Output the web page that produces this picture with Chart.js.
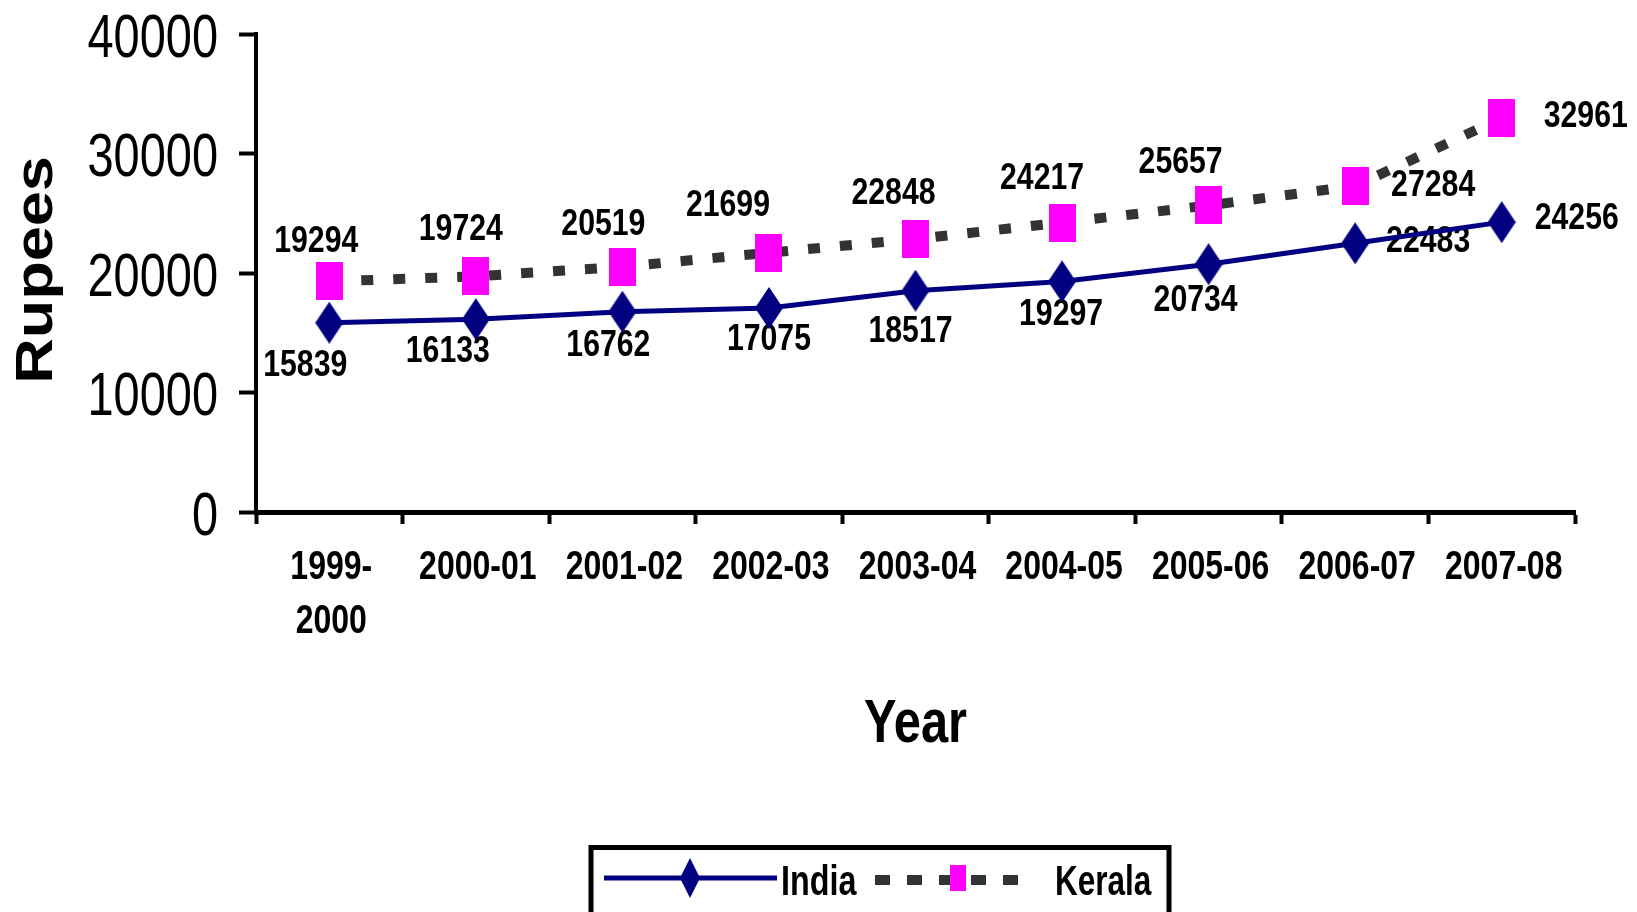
<!DOCTYPE html>
<html>
<head>
<meta charset="utf-8">
<title>Per capita income: India and Kerala</title>
<script src="https://cdn.jsdelivr.net/npm/chart.js@4.4.1/dist/chart.umd.min.js"></script>
<style>
  html, body { margin: 0; padding: 0; background: #fff; }
  #wrap { width: 1637px; height: 912px; }
</style>
</head>
<body>
<div id="wrap"><canvas id="chart" width="1637" height="912"></canvas></div>
<script>
// Data
const years = [["1999-", "2000"], "2000-01", "2001-02", "2002-03", "2003-04", "2004-05", "2005-06", "2006-07", "2007-08"];
const india = [15839, 16133, 16762, 17075, 18517, 19297, 20734, 22483, 24256];
const kerala = [19294, 19724, 20519, 21699, 22848, 24217, 25657, 27284, 32961];
const yTicks = [0, 10000, 20000, 30000, 40000];

// where each value label sits relative to its point (px)
const indiaLabelShift = [[-24, 40], [-28, 30], [-14, 31], [0, 29], [-5, 38], [-1, 31], [-13, 34], [73, -4], [75, -6]];
const keralaLabelShift = [[-13, -42], [-15, -49], [-19, -45], [-41, -50], [-22, -48], [-20, -46], [-28, -45], [78, -3], [84, -4]];

const SANS = "'Liberation Sans', Arial, sans-serif";
const NAVY = "#000080";
const MAGENTA = "#ff00ff";
const DASH = "#333333";

// The original text is tall and narrow, so text is drawn squeezed sideways
function drawText(ctx, text, x, capY, size, weight, sx, align) {
  ctx.save();
  ctx.translate(x, capY + 0.358 * size);
  ctx.scale(sx, 1);
  ctx.font = `${weight} ${size}px ${SANS}`;
  ctx.fillStyle = "#000";
  ctx.textAlign = align || "center";
  ctx.textBaseline = "alphabetic";
  ctx.fillText(text, 0, 0);
  ctx.restore();
}

// Marker images: tall diamond and upright rectangle
function makeDiamond(w, h, color) {
  const c = document.createElement("canvas");
  c.width = w; c.height = h;
  const g = c.getContext("2d");
  g.fillStyle = color;
  g.beginPath();
  g.moveTo(w / 2, 0);
  g.lineTo(w, h / 2);
  g.lineTo(w / 2, h);
  g.lineTo(0, h / 2);
  g.closePath();
  g.fill();
  return c;
}
function makeRect(w, h, color) {
  const c = document.createElement("canvas");
  c.width = w; c.height = h;
  const g = c.getContext("2d");
  g.fillStyle = color;
  g.fillRect(0, 0, w, h);
  return c;
}

const diamond = makeDiamond(28, 42, NAVY);
const square = makeRect(27, 38, MAGENTA);
const legendDiamond = makeDiamond(20, 40, NAVY);
const legendSquare = makeRect(16, 26, MAGENTA);

// Value labels next to every point (under the lines, as in the original)
const valueLabels = {
  id: "valueLabels",
  beforeDatasetsDraw(chart) {
    chart.data.datasets.forEach((ds, i) => {
      const meta = chart.getDatasetMeta(i);
      meta.data.forEach((pt, j) => {
        const [dx, dy] = ds.labelShift[j];
        drawText(chart.ctx, String(ds.data[j]), pt.x + dx, pt.y + dy, 36, "bold", 0.84);
      });
    });
  }
};

// Tick labels and axis titles
const axisText = {
  id: "axisText",
  afterDraw(chart) {
    const ctx = chart.ctx;
    const { x, y } = chart.scales;
    const area = chart.chartArea;

    y.ticks.forEach((t) => {
      drawText(ctx, String(t.value), 218, y.getPixelForValue(t.value) + 1, 61, "normal", 0.77, "right");
    });

    years.forEach((lab, i) => {
      const lines = Array.isArray(lab) ? lab : [lab];
      const cx = x.getPixelForValue(i);
      lines.forEach((ln, k) => drawText(ctx, ln, cx + 2, area.bottom + 53 + k * 54, 40, "bold", 0.8));
    });

    drawText(ctx, "Year", (area.left + area.right) / 2, 720, 61, "bold", 0.8);

    // Rupees, rotated; the letters are squeezed across the line
    ctx.save();
    ctx.translate(34 + 0.358 * 63 * 0.82, (area.top + area.bottom) / 2 - 3);
    ctx.rotate(-Math.PI / 2);
    ctx.scale(1, 0.82);
    ctx.font = `600 63px ${SANS}`;
    ctx.fillStyle = "#000";
    ctx.textAlign = "center";
    ctx.textBaseline = "alphabetic";
    ctx.fillText("Rupees", 0, 0);
    ctx.restore();
  }
};

// Boxed legend at the bottom, cut off by the canvas edge like the original
const boxLegend = {
  id: "boxLegend",
  afterDraw(chart) {
    const ctx = chart.ctx;
    const [ind, ker] = chart.data.datasets;
    const ly = 878;
    ctx.save();
    ctx.strokeStyle = "#000";
    ctx.lineWidth = 5;
    ctx.strokeRect(591, 847.5, 578, 90);

    ctx.strokeStyle = ind.borderColor;
    ctx.lineWidth = ind.borderWidth;
    ctx.beginPath();
    ctx.moveTo(604, ly);
    ctx.lineTo(777, ly);
    ctx.stroke();
    ctx.drawImage(legendDiamond, 690 - legendDiamond.width / 2, ly - legendDiamond.height / 2);

    ctx.strokeStyle = ker.borderColor;
    ctx.lineWidth = ker.borderWidth;
    ctx.setLineDash([15, 17]);
    ctx.beginPath();
    ctx.moveTo(875, ly + 2);
    ctx.lineTo(1030, ly + 2);
    ctx.stroke();
    ctx.setLineDash([]);
    ctx.drawImage(legendSquare, 958 - legendSquare.width / 2, ly - legendSquare.height / 2);
    ctx.restore();

    drawText(ctx, ind.label, 781, 880, 42, "bold", 0.77, "left");
    drawText(ctx, ker.label, 1055, 880, 42, "bold", 0.75, "left");
  }
};

new Chart(document.getElementById("chart"), {
  type: "line",
  data: {
    labels: years,
    datasets: [
      {
        label: "India",
        data: india,
        labelShift: indiaLabelShift,
        borderColor: NAVY,
        borderWidth: 5,
        pointStyle: diamond,
        pointRadius: 14,
        fill: false,
        tension: 0,
      },
      {
        label: "Kerala",
        data: kerala,
        labelShift: keralaLabelShift,
        borderColor: DASH,
        borderWidth: 10,
        borderDash: [12, 20],
        pointStyle: square,
        pointRadius: 14,
        fill: false,
        tension: 0,
      },
    ],
  },
  options: {
    responsive: false,
    animation: false,
    layout: { padding: { left: 0, right: 62, top: 34, bottom: 0 } },
    plugins: { legend: { display: false }, tooltip: { enabled: false } },
    scales: {
      x: {
        type: "category",
        offset: true,
        grid: { offset: true, drawOnChartArea: false, drawTicks: true, tickLength: 12, tickWidth: 4, tickColor: "#000" },
        border: { display: true, color: "#000", width: 5 },
        ticks: { display: false, autoSkip: false },
        title: { display: false },
        afterFit(scale) { scale.height = 400; },
      },
      y: {
        min: 0,
        max: 40000,
        afterBuildTicks(scale) { scale.ticks = yTicks.map((v) => ({ value: v })); },
        grid: { drawOnChartArea: false, tickLength: 17, tickWidth: 4, tickColor: "#000" },
        border: { color: "#000", width: 4 },
        ticks: { display: false },
        title: { display: false },
        afterFit(scale) { scale.width = 256; },
      },
    },
  },
  plugins: [valueLabels, axisText, boxLegend],
});
</script>
</body>
</html>
